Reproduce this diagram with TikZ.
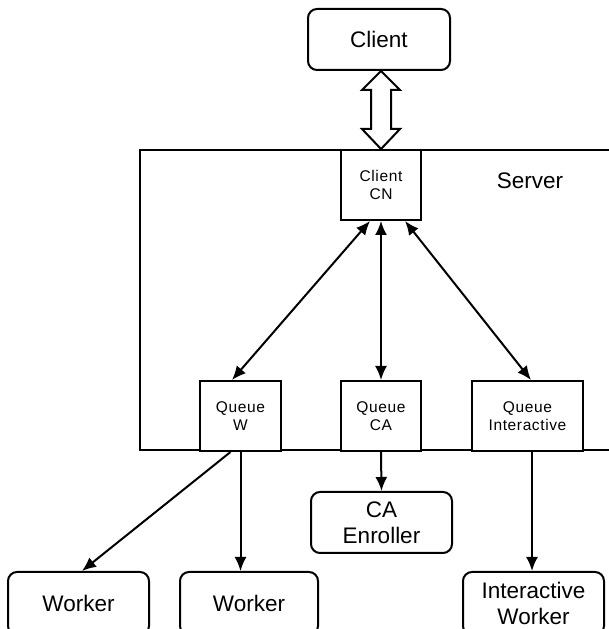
\documentclass[tikz,border=0pt]{standalone}
\usepackage{fontspec}
\setmainfont{Liberation Sans}
\newfontfamily\qfont[LetterSpace=4]{Liberation Sans}
\usetikzlibrary{arrows.meta,calc}
\tikzset{
  rbox/.style={draw, line width=2pt, rounded corners=9pt, fill=white, inner sep=0pt, align=center, font=\fontsize{22.5}{26}\selectfont},
  qbox/.style={draw, line width=2pt, fill=white, inner sep=0pt, minimum height=70pt, align=center, font=\qfont\fontsize{15.5}{18}\selectfont},
  arr/.style={-{Latex[length=14pt,width=12pt]}, line width=2pt},
  arrb/.style={{Latex[length=14pt,width=12pt]}-{Latex[length=14pt,width=12pt]}, line width=2pt},
}

\begin{document}
\begin{tikzpicture}[x=1pt,y=1pt]
  \useasboundingbox (0,0) rectangle (609,629);
  \clip (0,0) rectangle (609,629);
  \draw[line width=2pt] (140,179) rectangle (640,479);
  \node[font=\fontsize{22.5}{26}\selectfont] (srv) at (530,448) {Server};
  \node[rbox, minimum width=142pt, minimum height=61pt] (client) at (379,589.5) {Client};
  \node[qbox, minimum width=80pt] (cn) at (381,444) {Client\\CN};
  \node[qbox, minimum width=81pt] (qw) at (240.5,213) {Queue\\W};
  \node[qbox, minimum width=80pt] (qca) at (381,213) {Queue\\CA};
  \node[qbox, minimum width=111pt] (qint) at (527.5,213) {Queue\\Interactive};
  \node[rbox, minimum width=141pt, minimum height=61pt] (enr) at (381.5,106.5) {CA\\Enroller};
  \node[rbox, minimum width=141pt, minimum height=63pt] (wk1) at (78.5,25.5) {Worker};
  \node[rbox, minimum width=138pt, minimum height=63pt] (wk2) at (249,25.5) {Worker};
  \node[rbox, minimum width=141pt, minimum height=63pt] (iwk) at (533.5,25.5) {Interactive\\Worker};
  \coordinate (qi) at ($(qint.south)+(4.5,0)$);
  \draw[line width=2pt, fill=white] let \p1=(client.south), \p2=(cn.north) in
    (\x1+2,\y1) -- (\x1+21,\y1-19) -- (\x1+12,\y1-19) -- (\x1+12,\y2+20)
    -- (\x1+21,\y2+20) -- (\x1+2,\y2) -- (\x1-17,\y2+20) -- (\x1-8,\y2+20)
    -- (\x1-8,\y1-19) -- (\x1-17,\y1-19) -- cycle;
  \draw[arrb] ($(cn.south)+(-11,0)$) -- ($(qw.north)+(-8.5,0)$);
  \draw[arrb] (cn.south) -- (qca.north);
  \draw[arrb] ($(cn.south)+(24,0)$) -- ($(qint.north)+(3.5,0)$);
  \draw[arr] ($(qw.south)+(-10,0)$) -- ($(wk1.north)+(3.5,0)$);
  \draw[arr] (qw.south) -- (qw.south |- wk2.north);
  \draw[arr] (qca.south) -- (enr.north);
  \draw[arr] (qi) -- (qi |- iwk.north);
\end{tikzpicture}
\end{document}
